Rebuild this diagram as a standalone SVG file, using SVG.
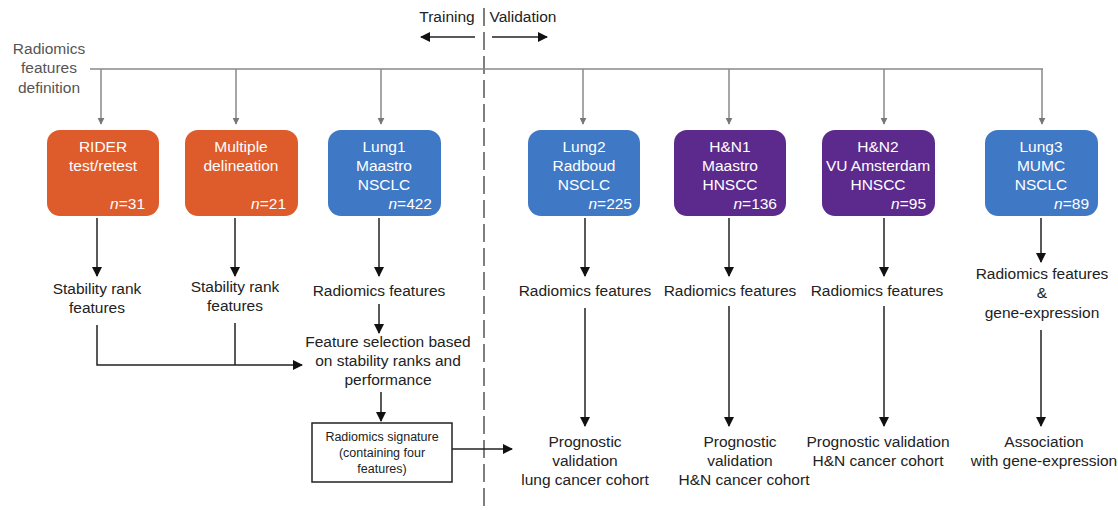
<svg xmlns="http://www.w3.org/2000/svg" width="1118" height="510" viewBox="0 0 1118 510">
<defs>
<marker id="ag" viewBox="0 0 10 10" refX="9" refY="5" markerWidth="7" markerHeight="7" markerUnits="userSpaceOnUse" orient="auto"><path d="M0,0 L10,5 L0,10 z" fill="#777"/></marker>
<marker id="ab" viewBox="0 0 10 10" refX="9" refY="5" markerWidth="10" markerHeight="10" markerUnits="userSpaceOnUse" orient="auto"><path d="M0,0 L10,5 L0,10 z" fill="#111"/></marker>
<style>
text{font-family:"Liberation Sans",Arial,Helvetica,sans-serif;}
.bx{font-size:15.5px;fill:#fff;text-anchor:middle;}
.n{font-size:15.5px;fill:#fff;text-anchor:end;}
.lb{font-size:15.5px;fill:#222;text-anchor:middle;}
.gl{stroke:#888;stroke-width:1.5;fill:none;}
.bl{stroke:#222;stroke-width:1.5;fill:none;}
.or{fill:#DE5B2C;}
.bu{fill:#3F78C5;}
.pu{fill:#5C2A8D;}
</style>
</defs>
<rect width="1118" height="510" fill="#fff"/>

<g id="header">
<text x="447" y="22" class="lb">Training</text>
<text x="523" y="22" class="lb">Validation</text>
<text x="49" y="54" class="lb" style="fill:#555">Radiomics</text>
<text x="49" y="73" class="lb" style="fill:#555">features</text>
<text x="49" y="93" class="lb" style="fill:#555">definition</text>
</g>

<g id="connectors">
<line x1="484" y1="8" x2="484" y2="510" stroke="#555" stroke-width="1.5" stroke-dasharray="18 6"/>
<line x1="475" y1="37" x2="421" y2="37" class="bl" marker-end="url(#ab)"/>
<line x1="492" y1="37" x2="547" y2="37" class="bl" marker-end="url(#ab)"/>
<line x1="90" y1="69" x2="1043" y2="69" class="gl"/>
<line x1="101" y1="69" x2="101" y2="124" class="gl" marker-end="url(#ag)"/>
<line x1="236" y1="69" x2="236" y2="124" class="gl" marker-end="url(#ag)"/>
<line x1="381" y1="69" x2="381" y2="124" class="gl" marker-end="url(#ag)"/>
<line x1="583" y1="69" x2="583" y2="124" class="gl" marker-end="url(#ag)"/>
<line x1="729" y1="69" x2="729" y2="124" class="gl" marker-end="url(#ag)"/>
<line x1="884" y1="69" x2="884" y2="124" class="gl" marker-end="url(#ag)"/>
<line x1="1042" y1="69" x2="1042" y2="124" class="gl" marker-end="url(#ag)"/>

<line x1="97" y1="218" x2="97" y2="276" class="bl" marker-end="url(#ab)"/>
<line x1="235" y1="218" x2="235" y2="276" class="bl" marker-end="url(#ab)"/>
<line x1="379" y1="218" x2="379" y2="276" class="bl" marker-end="url(#ab)"/>
<line x1="585" y1="218" x2="585" y2="276" class="bl" marker-end="url(#ab)"/>
<line x1="729" y1="218" x2="729" y2="276" class="bl" marker-end="url(#ab)"/>
<line x1="884" y1="218" x2="884" y2="276" class="bl" marker-end="url(#ab)"/>
<line x1="1041" y1="218" x2="1041" y2="262" class="bl" marker-end="url(#ab)"/>

<polyline points="97,325 97,365 302,365" class="bl" marker-end="url(#ab)"/>
<line x1="235" y1="323" x2="235" y2="365" class="bl"/>
<line x1="379" y1="304" x2="379" y2="333" class="bl" marker-end="url(#ab)"/>
<line x1="381" y1="392" x2="381" y2="421" class="bl" marker-end="url(#ab)"/>
<line x1="452" y1="449" x2="512" y2="449" class="bl" marker-end="url(#ab)"/>

<line x1="585" y1="308" x2="585" y2="426" class="bl" marker-end="url(#ab)"/>
<line x1="729" y1="306" x2="729" y2="426" class="bl" marker-end="url(#ab)"/>
<line x1="884" y1="306" x2="884" y2="426" class="bl" marker-end="url(#ab)"/>
<line x1="1041" y1="330" x2="1041" y2="426" class="bl" marker-end="url(#ab)"/>
</g>

<g id="rider">
<rect x="47" y="130" width="112" height="86" rx="13" class="or"/>
<text x="103" y="152" class="bx">RIDER</text>
<text x="103" y="171" class="bx">test/retest</text>
<text x="145" y="209" class="n"><tspan font-style="italic">n</tspan>=31</text>
</g>
<g id="multiple">
<rect x="185" y="130" width="113" height="86" rx="13" class="or"/>
<text x="241" y="152" class="bx">Multiple</text>
<text x="241" y="171" class="bx">delineation</text>
<text x="286" y="209" class="n"><tspan font-style="italic">n</tspan>=21</text>
</g>
<g id="lung1">
<rect x="328" y="130" width="113" height="86" rx="13" class="bu"/>
<text x="384" y="152" class="bx">Lung1</text>
<text x="384" y="171" class="bx">Maastro</text>
<text x="384" y="190" class="bx">NSCLC</text>
<text x="432" y="209" class="n"><tspan font-style="italic">n</tspan>=422</text>
</g>
<g id="lung2">
<rect x="528" y="130" width="112" height="86" rx="13" class="bu"/>
<text x="584" y="152" class="bx">Lung2</text>
<text x="584" y="171" class="bx">Radboud</text>
<text x="584" y="190" class="bx">NSCLC</text>
<text x="632" y="209" class="n"><tspan font-style="italic">n</tspan>=225</text>
</g>
<g id="hn1">
<rect x="674" y="130" width="112" height="86" rx="13" class="pu"/>
<text x="730" y="152" class="bx">H&amp;N1</text>
<text x="730" y="171" class="bx">Maastro</text>
<text x="730" y="190" class="bx">HNSCC</text>
<text x="777" y="209" class="n"><tspan font-style="italic">n</tspan>=136</text>
</g>
<g id="hn2">
<rect x="822" y="130" width="113" height="86" rx="13" class="pu"/>
<text x="878" y="152" class="bx">H&amp;N2</text>
<text x="878" y="171" class="bx">VU Amsterdam</text>
<text x="878" y="190" class="bx">HNSCC</text>
<text x="926" y="209" class="n"><tspan font-style="italic">n</tspan>=95</text>
</g>
<g id="lung3">
<rect x="985" y="130" width="113" height="86" rx="13" class="bu"/>
<text x="1041" y="152" class="bx">Lung3</text>
<text x="1041" y="171" class="bx">MUMC</text>
<text x="1041" y="190" class="bx">NSCLC</text>
<text x="1089" y="209" class="n"><tspan font-style="italic">n</tspan>=89</text>
</g>

<g id="stab1">
<text x="97" y="294" class="lb">Stability rank</text>
<text x="97" y="313" class="lb">features</text>
</g>
<g id="stab2">
<text x="235" y="292" class="lb">Stability rank</text>
<text x="235" y="311" class="lb">features</text>
</g>
<g id="rf1"><text x="379" y="296" class="lb">Radiomics features</text></g>
<g id="fsel">
<text x="388" y="347" class="lb">Feature selection based</text>
<text x="388" y="366" class="lb">on stability ranks and</text>
<text x="388" y="385" class="lb">performance</text>
</g>
<g id="signature">
<rect x="312" y="423" width="140" height="59" fill="#fff" stroke="#222" stroke-width="1.5"/>
<text x="382" y="441" class="lb" style="font-size:12.5px">Radiomics signature</text>
<text x="382" y="457" class="lb" style="font-size:12.5px">(containing four</text>
<text x="382" y="473" class="lb" style="font-size:12.5px">features)</text>
</g>
<g id="rf2"><text x="585" y="296" class="lb">Radiomics features</text></g>
<g id="rf3"><text x="730" y="296" class="lb">Radiomics features</text></g>
<g id="rf4"><text x="877" y="296" class="lb">Radiomics features</text></g>
<g id="rf5">
<text x="1042" y="279" class="lb">Radiomics features</text>
<text x="1042" y="298" class="lb">&amp;</text>
<text x="1042" y="318" class="lb">gene-expression</text>
</g>
<g id="pv1">
<text x="585" y="447" class="lb">Prognostic</text>
<text x="585" y="466" class="lb">validation</text>
<text x="585" y="485" class="lb">lung cancer cohort</text>
</g>
<g id="pv2">
<text x="740" y="447" class="lb">Prognostic</text>
<text x="740" y="466" class="lb">validation</text>
<text x="744" y="485" class="lb">H&amp;N cancer cohort</text>
</g>
<g id="pv3">
<text x="878" y="447" class="lb">Prognostic validation</text>
<text x="878" y="466" class="lb">H&amp;N cancer cohort</text>
</g>
<g id="assoc">
<text x="1044" y="447" class="lb">Association</text>
<text x="1044" y="466" class="lb">with gene-expression</text>
</g>
</svg>
